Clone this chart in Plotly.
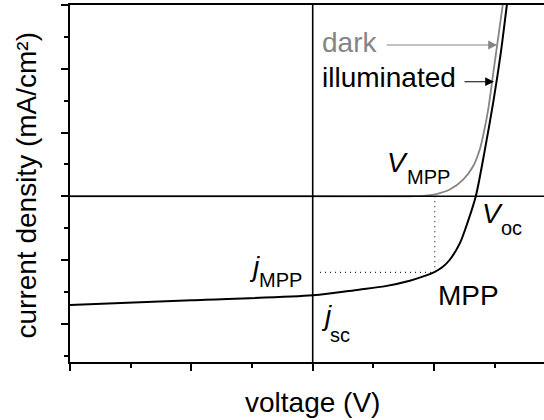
import plotly.graph_objects as go

# ---- data ----
v_illum = [-1.0, -0.5, 0.0, 0.19, 0.3, 0.4, 0.45, 0.503, 0.535, 0.564, 0.606, 0.64, 0.672, 0.709, 0.745, 0.775, 0.80, 0.82]
j_illum = [-1.705, -1.63, -1.554, -1.465, -1.41, -1.325, -1.265, -1.185, -1.11, -1.0, -0.74, -0.39, 0.0, 0.72, 1.5, 2.25, 3.0, 3.6]

v_dark = [-1.0, 0.0, 0.40, 0.455, 0.51, 0.565, 0.62, 0.661, 0.688, 0.705, 0.723, 0.75, 0.783, 0.80]
j_dark = [0.0, 0.0, 0.0, 0.005, 0.035, 0.105, 0.26, 0.47, 0.73, 1.0, 1.36, 2.1, 3.0, 3.5]

v_mpp = 0.503
j_mpp = -1.195
v_start_dot = 0.03

FONT = "Liberation Sans, Arial, sans-serif"
MAIN = 28
SUB = 20

# axis geometry helpers (pixel -> data) for label placement
L, R, T, B = 70, 544, 5, 362
X0, XPX = -1.0, 242.7
Y1 = 3.0
YPX = (B - T) / 5.6


def px2x(px):
    return X0 + (px - L) / XPX


def px2y(py):
    return Y1 - (py - T) / YPX


def base2y(baseline, size):
    # centre of text box from baseline
    return px2y(baseline - 0.3465 * size)


fig = go.Figure()

fig.add_trace(go.Scatter(x=v_dark, y=j_dark, mode="lines",
                         line=dict(color="#858585", width=1.8, shape="spline", smoothing=0.8),
                         hoverinfo="skip", showlegend=False))
fig.add_trace(go.Scatter(x=v_illum, y=j_illum, mode="lines",
                         line=dict(color="black", width=2, shape="spline", smoothing=0.8),
                         hoverinfo="skip", showlegend=False))
# dotted guide lines to the MPP
fig.add_trace(go.Scatter(x=[v_start_dot, v_mpp], y=[j_mpp, j_mpp], mode="lines",
                         line=dict(color="#222", width=1.2, dash="1px,4px"),
                         hoverinfo="skip", showlegend=False))
fig.add_trace(go.Scatter(x=[v_mpp, v_mpp], y=[0, j_mpp], mode="lines",
                         line=dict(color="#222", width=1.2, dash="1px,4px"),
                         hoverinfo="skip", showlegend=False))

# zero axes drawn above the curves (dark curve hides beneath j = 0 line)
fig.add_shape(type="line", xref="paper", yref="y", x0=0, x1=1, y0=0, y1=0,
              line=dict(color="black", width=1.6), layer="above")
fig.add_shape(type="line", xref="x", yref="paper", x0=0, x1=0, y0=0, y1=1,
              line=dict(color="black", width=1.6), layer="above")


def label(text, px, baseline, size, anchor="left", color="black"):
    fig.add_annotation(x=px2x(px), y=base2y(baseline, size), xref="x", yref="y",
                       text=text, showarrow=False, xanchor=anchor, yanchor="middle",
                       font=dict(family=FONT, size=size, color=color),
                       borderpad=0, borderwidth=0)


label("dark", 349.5, 52, MAIN, anchor="center", color="#858585")
label("illuminated", 389, 87.3, MAIN, anchor="center")
label("<i>V</i>", 387, 171.7, MAIN)
label("MPP", 407, 184.3, SUB)
label("<i>V</i>", 482, 223.3, MAIN)
label("oc", 501, 235, SUB)
label("<i>j</i>", 249, 276, MAIN)
label("MPP", 258.5, 287.3, SUB)
label("MPP", 438, 305, MAIN)
label("<i>j</i>", 320.5, 325, MAIN)
label("sc", 330, 341.7, SUB)

# arrows
fig.add_annotation(x=px2x(497), y=px2y(45), ax=px2x(385), ay=px2y(45),
                   xref="x", yref="y", axref="x", ayref="y", text="",
                   showarrow=True, arrowhead=2, arrowsize=1.6, arrowwidth=1.1,
                   arrowcolor="#858585", standoff=0, startstandoff=0)
fig.add_annotation(x=px2x(494), y=px2y(81.7), ax=px2x(463), ay=px2y(81.7),
                   xref="x", yref="y", axref="x", ayref="y", text="",
                   showarrow=True, arrowhead=2, arrowsize=1.6, arrowwidth=1.1,
                   arrowcolor="black", standoff=0, startstandoff=0)

# axis titles
fig.add_annotation(x=(312 - L) / (R - L), y=(B - 402) / (B - T), xref="paper", yref="paper",
                   text="voltage (V)", showarrow=False, xanchor="center", yanchor="middle",
                   font=dict(family=FONT, size=MAIN, color="black"))
fig.add_annotation(x=(26 - L) / (R - L), y=(B - 185.5) / (B - T), xref="paper", yref="paper",
                   text="current density (mA/cm²)", showarrow=False, textangle=-90,
                   xanchor="center", yanchor="middle",
                   font=dict(family=FONT, size=MAIN, color="black"))

fig.update_layout(
    width=544, height=420,
    margin=dict(l=L, r=544 - R, t=T, b=420 - B),
    paper_bgcolor="white", plot_bgcolor="white",
    showlegend=False,
    font=dict(family=FONT, color="black"),
)
fig.update_xaxes(range=[X0, X0 + (R - L) / XPX], showgrid=False,
                 showline=True, linecolor="black", linewidth=1.6, mirror=True,
                 zeroline=False,
                 ticks="outside", ticklen=7, tickwidth=1.5, tickcolor="black",
                 tick0=-1, dtick=0.5, showticklabels=False,
                 minor=dict(ticks="outside", ticklen=4, tickwidth=1.5, tickcolor="black", dtick=0.25))
fig.update_yaxes(range=[-2.6, 3.0], showgrid=False,
                 showline=True, linecolor="black", linewidth=1.6, mirror=False,
                 zeroline=False,
                 ticks="outside", ticklen=7, tickwidth=1.5, tickcolor="black",
                 tick0=0, dtick=1, showticklabels=False,
                 minor=dict(ticks="outside", ticklen=4, tickwidth=1.5, tickcolor="black", dtick=0.5))

fig.write_html("out.html")
